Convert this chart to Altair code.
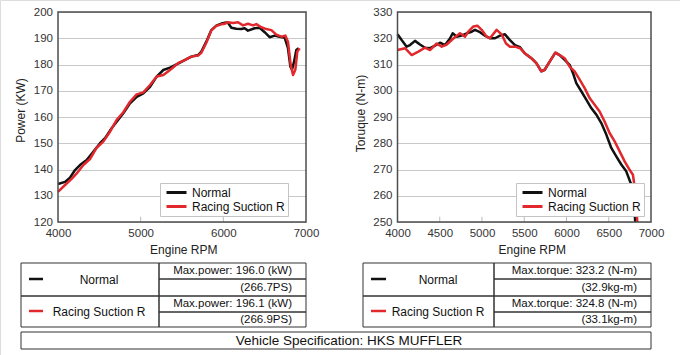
import altair as alt
import pandas as pd

# ---------------- data ----------------
SERIES = ["Normal", "Racing Suction R"]
COLORS = ["#111111", "#e0282d"]

power_normal_rpm = [4000, 4085, 4145, 4206, 4266, 4347, 4427, 4508, 4569, 4649, 4710, 4790, 4871, 4952,
                    5032, 5113, 5194, 5274, 5355, 5452, 5532, 5613, 5694, 5734, 5794, 5855, 5915, 5976,
                    6036, 6056, 6097, 6157, 6218, 6258, 6298, 6379, 6440, 6500, 6560, 6621, 6681, 6742,
                    6782, 6811, 6831, 6855, 6883, 6911]
power_normal_kw = [134.5, 135.3, 136.9, 139.8, 141.7, 143.6, 146.8, 150.0, 151.9, 155.7, 158.2, 161.4, 165.2, 167.7,
                   169.0, 171.5, 175.4, 177.9, 178.8, 180.3, 181.7, 183.0, 183.6, 184.9, 188.7, 193.1, 194.8, 195.6,
                   196.0, 195.9, 194.0, 193.6, 193.5, 193.8, 192.9, 193.8, 194.0, 192.3, 190.4, 191.0, 190.6, 190.2,
                   186.2, 179.2, 178.0, 181.0, 185.5, 186.2]

power_racing_rpm = [4000, 4085, 4165, 4226, 4307, 4387, 4468, 4548, 4629, 4710, 4790, 4871, 4952, 5032,
                    5113, 5194, 5274, 5355, 5452, 5532, 5613, 5694, 5734, 5794, 5855, 5915, 5976, 6016,
                    6056, 6117, 6178, 6238, 6298, 6359, 6399, 6460, 6520, 6581, 6641, 6702, 6750, 6782,
                    6815, 6843, 6871, 6895, 6923]
power_racing_kw = [131.5, 134.1, 136.4, 138.5, 141.7, 144.0, 148.3, 150.6, 154.4, 158.9, 161.8, 165.8, 168.6, 169.4,
                   172.2, 175.4, 176.0, 177.9, 180.5, 181.7, 183.0, 183.4, 184.5, 188.3, 193.0, 194.7, 195.3, 195.5,
                   196.1, 195.8, 196.1, 194.9, 195.5, 194.9, 195.4, 194.2, 193.5, 193.1, 191.4, 190.6, 191.0, 188.7,
                   179.8, 176.0, 178.0, 184.9, 186.2]

torque_normal_rpm = [4000, 4049, 4108, 4148, 4207, 4266, 4325, 4385, 4444, 4503, 4562, 4621, 4653, 4700,
                     4759, 4819, 4878, 4917, 4976, 5035, 5094, 5154, 5213, 5272, 5331, 5390, 5450, 5505,
                     5584, 5643, 5702, 5742, 5801, 5868, 5919, 5978, 6037, 6077, 6116, 6175, 6234, 6293,
                     6353, 6412, 6471, 6530, 6589, 6648, 6707, 6766, 6798, 6814]
torque_normal_nm = [321.5, 319.3, 316.8, 317.4, 319.0, 317.6, 316.4, 316.2, 317.2, 318.3, 317.4, 319.9, 321.9, 320.6,
                    321.0, 321.9, 322.5, 323.2, 322.3, 321.0, 320.0, 320.0, 321.0, 321.5, 319.3, 317.4, 316.6, 314.3,
                    312.4, 310.5, 307.4, 308.0, 311.1, 314.5, 313.6, 311.8, 309.9, 306.7, 302.9, 299.8, 296.6, 293.4,
                    290.9, 287.7, 283.3, 278.2, 275.0, 271.9, 269.3, 264.3, 256.6, 250.0]

torque_racing_rpm = [4000, 4089, 4168, 4247, 4325, 4385, 4464, 4523, 4582, 4661, 4740, 4799, 4838, 4898,
                     4945, 4996, 5055, 5094, 5173, 5232, 5284, 5331, 5390, 5450, 5505, 5584, 5643, 5702,
                     5742, 5801, 5868, 5919, 5978, 6037, 6096, 6156, 6215, 6274, 6333, 6392, 6451, 6510,
                     6570, 6629, 6688, 6747, 6786, 6814, 6838]
torque_racing_nm = [315.5, 316.2, 313.6, 314.9, 316.4, 315.5, 318.0, 316.8, 317.6, 319.9, 321.9, 320.6, 322.5, 324.5,
                    324.8, 323.2, 320.6, 320.0, 323.2, 321.5, 318.0, 316.8, 316.8, 316.2, 314.3, 312.4, 310.5, 307.4,
                    308.0, 311.1, 314.5, 313.6, 312.4, 309.2, 307.4, 304.2, 301.0, 297.2, 294.7, 292.1, 288.3, 283.9,
                    280.7, 276.9, 273.1, 269.9, 268.0, 261.7, 250.0]

power_ticks = [120, 130, 140, 150, 160, 170, 180, 190, 200]
torque_ticks = [250, 260, 270, 280, 290, 300, 310, 320, 330]
power_rpm_ticks = [4000, 5000, 6000, 7000]
torque_rpm_ticks = [4000, 4500, 5000, 5500, 6000, 6500, 7000]

table_labels = ["Normal", "Racing Suction R"]
power_values = ["Max.power: 196.0 (kW)", "(266.7PS)", "Max.power: 196.1 (kW)", "(266.9PS)"]
torque_values = ["Max.torque: 323.2 (N-m)", "(32.9kg-m)", "Max.torque: 324.8 (N-m)", "(33.1kg-m)"]
spec_text = "Vehicle Specification: HKS MUFFLER"

# ---------------- layout ----------------
W, H = 680, 355
FONT = "Liberation Sans"
PLOT_TOP, PLOT_BOTTOM = 12, 222
POWER_XR = [58, 306]
TORQUE_XR = [397.5, 651]

TBL_X = {"power": (21, 159, 306), "torque": (363, 494, 651)}
TBL_Y = (263, 279, 296, 312, 327)
SPEC_BOX = (21, 651, 332, 349)
LABEL_CX = {"power": 99, "torque": 438}
SYM_X = {"power": (29, 43), "torque": (371, 386)}
VALUE_PAD = 14
SPEC_CX = 349


def series_df(rpm_a, val_a, rpm_b, val_b):
    a = pd.DataFrame({"rpm": rpm_a, "val": val_a, "series": SERIES[0]})
    b = pd.DataFrame({"rpm": rpm_b, "val": val_b, "series": SERIES[1]})
    return pd.concat([a, b], ignore_index=True)


def panel(df, ydom, yticks, xticks, xrange, ytitle, ytitle_x, ytitle_y, xtitle_x, legend_x):
    xscale = alt.Scale(domain=[4000, 7000], range=xrange, nice=False, zero=False)
    yscale = alt.Scale(domain=ydom, range=[PLOT_BOTTOM, PLOT_TOP], nice=False, zero=False)
    xaxis = alt.Axis(orient="bottom", offset=-(H - PLOT_BOTTOM), values=xticks, format="d",
                     grid=False, domain=False, ticks=False, tickSize=0,
                     labelPadding=14.5, labelBaseline="alphabetic", labelFontSize=11.5,
                     labelFont=FONT, labelColor="#333", labelFlush=False, labelOverlap=False,
                     title="Engine RPM", titleX=xtitle_x, titleY=31.3, titleAlign="center",
                     titleBaseline="alphabetic", titleFontSize=12, titleFontWeight="normal",
                     titleFont=FONT, titleColor="#222")
    yaxis = alt.Axis(orient="left", offset=-xrange[0], values=yticks, format="d",
                     grid=True, gridColor="#c8c8c8", gridWidth=1, domain=False, ticks=False, tickSize=0,
                     labelPadding=5.5, labelFontSize=11.5, labelFont=FONT, labelColor="#333",
                     labelOverlap=False,
                     title=ytitle, titleX=ytitle_x, titleY=ytitle_y, titleAngle=270,
                     titleAlign="center", titleBaseline="alphabetic", titleFontSize=12,
                     titleFontWeight="normal", titleFont=FONT, titleColor="#222")
    lines = alt.Chart(df).mark_line(strokeWidth=2.5, strokeJoin="round").encode(
        x=alt.X("rpm:Q", scale=xscale, axis=xaxis),
        y=alt.Y("val:Q", scale=yscale, axis=yaxis),
        color=alt.Color("series:N", scale=alt.Scale(domain=SERIES, range=COLORS),
                        legend=alt.Legend(orient="none", legendX=legend_x, legendY=183, title=None,
                                          symbolType="M-2,0H2", symbolSize=100, symbolStrokeWidth=3,
                                          strokeColor="#c4c4c4", fillColor="white", padding=3,
                                          labelFontSize=12, labelFont=FONT, labelColor="#111",
                                          symbolOffset=7, labelOffset=9, rowPadding=1)),
    )
    tick_df = pd.DataFrame({"rpm": xticks[1:-1]})
    tick_df["val"] = ydom[0]
    tick_df["val2"] = ydom[0] + (ydom[1] - ydom[0]) * 0.025
    inner_ticks = alt.Chart(tick_df).mark_rule(color="#bbbbbb", strokeWidth=1).encode(
        x="rpm:Q", y="val:Q", y2="val2:Q")
    frame_df = pd.DataFrame({"rpm": [4000], "rpm2": [7000], "val": [ydom[0]], "val2": [ydom[1]]})
    frame = alt.Chart(frame_df).mark_rect(fill="transparent", stroke="#4d4d4d", strokeWidth=1.5).encode(
        x="rpm:Q", x2="rpm2:Q", y="val:Q", y2="val2:Q")
    return alt.layer(lines, inner_ticks, frame)


power_df = series_df(power_normal_rpm, power_normal_kw, power_racing_rpm, power_racing_kw)
torque_df = series_df(torque_normal_rpm, torque_normal_nm, torque_racing_rpm, torque_racing_nm)

power_panel = panel(power_df, [120, 200], power_ticks, power_rpm_ticks, POWER_XR,
                    "Power (KW)", -34, 110, 183.3, 160)
torque_panel = panel(torque_df, [250, 330], torque_ticks, torque_rpm_ticks, TORQUE_XR,
                     "Toruque (N-m)", -33.5, 113, 531.8, 516)

# ---------------- tables ----------------
cells, labels, values, syms = [], [], [], []
for key, vals in (("power", power_values), ("torque", torque_values)):
    x0, x1, x2 = TBL_X[key]
    for i, lab in enumerate(table_labels):
        ya, yb, yc = TBL_Y[2 * i], TBL_Y[2 * i + 1], TBL_Y[2 * i + 2]
        cells.append({"x": x0, "x2": x1, "y": ya, "y2": yc})
        cells.append({"x": x1, "x2": x2, "y": ya, "y2": yb})
        cells.append({"x": x1, "x2": x2, "y": yb, "y2": yc})
        labels.append({"x": LABEL_CX[key], "y": (ya + yc) / 2, "text": lab})
        syms.append({"x": SYM_X[key][0], "x2": SYM_X[key][1], "y": (ya + yc) / 2 - 0.5, "col": COLORS[i]})
        values.append({"x": x2 - VALUE_PAD, "y": (ya + yb) / 2, "text": vals[2 * i]})
        values.append({"x": x2 - VALUE_PAD, "y": (yb + yc) / 2, "text": vals[2 * i + 1]})
cells.append({"x": SPEC_BOX[0], "x2": SPEC_BOX[1], "y": SPEC_BOX[2], "y2": SPEC_BOX[3]})
spec = [{"x": SPEC_CX, "y": (SPEC_BOX[2] + SPEC_BOX[3]) / 2, "text": spec_text}]

tx = alt.Scale(domain=[0, W], range=[0, W], nice=False, zero=False)
ty = alt.Scale(domain=[0, H], range=[0, H], nice=False, zero=False)


def X(f="x"):
    return alt.X(f"{f}:Q", scale=tx, axis=None)


def Y(f="y"):
    return alt.Y(f"{f}:Q", scale=ty, axis=None)


cell_layer = alt.Chart(pd.DataFrame(cells)).mark_rect(fill="transparent", stroke="#333333", strokeWidth=1).encode(
    x=X(), x2="x2:Q", y=Y(), y2="y2:Q")
sym_layer = alt.Chart(pd.DataFrame(syms)).mark_rule(strokeWidth=2.5).encode(
    x=X(), x2="x2:Q", y=Y(), color=alt.Color("col:N", scale=None))
label_layer = alt.Chart(pd.DataFrame(labels)).mark_text(
    align="center", baseline="middle", font=FONT, fontSize=12, color="#111").encode(x=X(), y=Y(), text="text:N")
value_layer = alt.Chart(pd.DataFrame(values)).mark_text(
    align="right", baseline="middle", font=FONT, fontSize=11.5, color="#111").encode(x=X(), y=Y(), text="text:N")
spec_layer = alt.Chart(pd.DataFrame(spec)).mark_text(
    align="center", baseline="middle", font=FONT, fontSize=13.5, color="#111").encode(x=X(), y=Y(), text="text:N")

table = alt.layer(cell_layer, sym_layer, label_layer, value_layer, spec_layer)

chart = alt.layer(power_panel, torque_panel, table).resolve_scale(
    x="independent", y="independent", color="independent"
).properties(
    width=W, height=H, autosize=alt.AutoSizeParams(type="none"), padding=0, background="white"
).configure_view(stroke=None).configure(font=FONT)

chart.save("out.html", embed_options={"renderer": "svg", "actions": False})
